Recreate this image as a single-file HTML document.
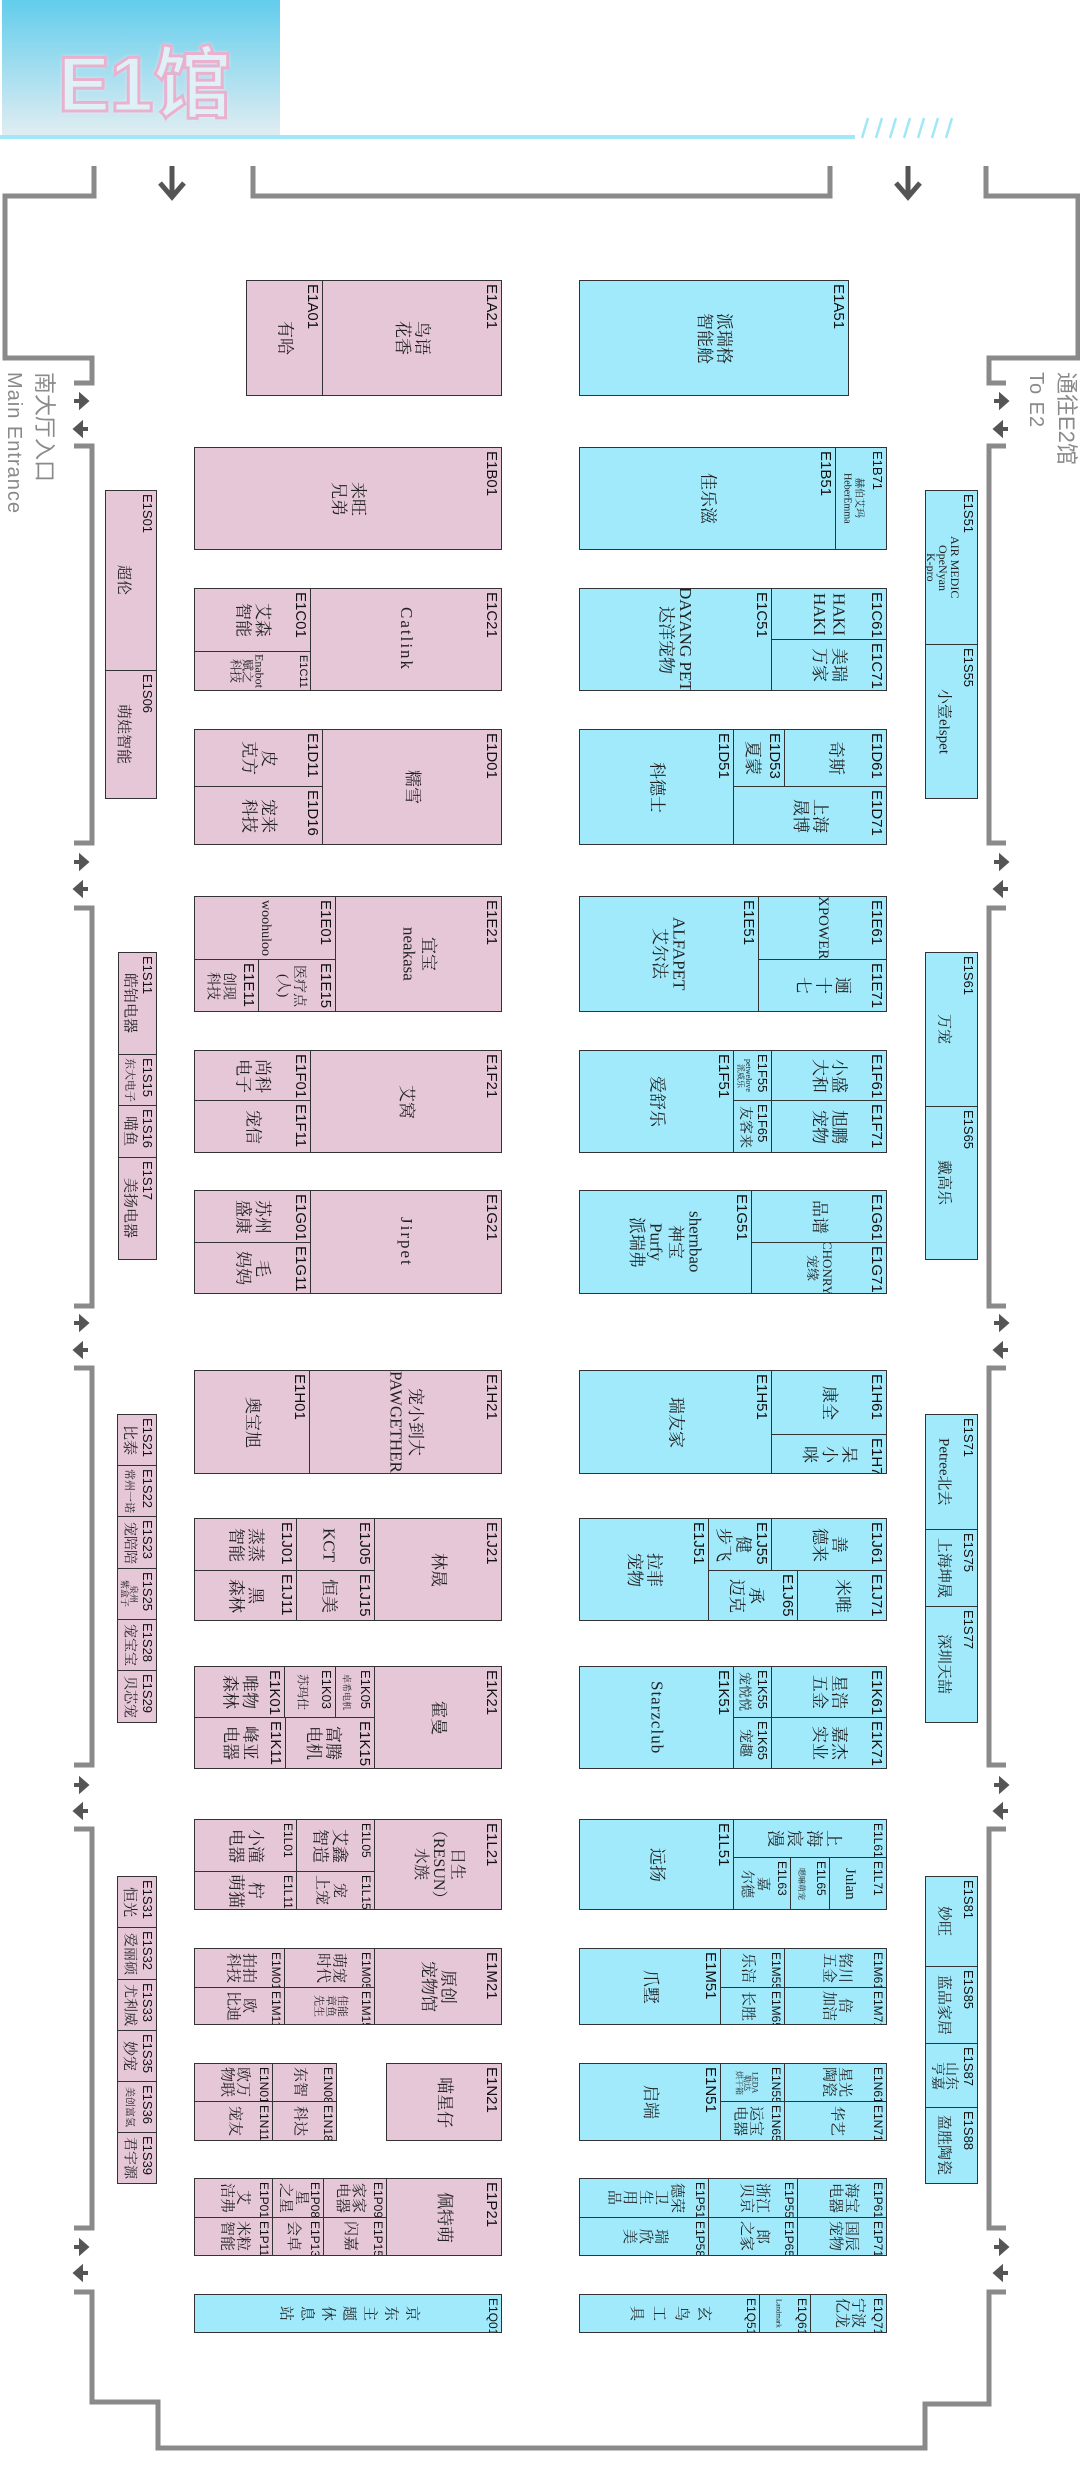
<!DOCTYPE html>
<html><head><meta charset="utf-8"><style>
*{margin:0;padding:0}
body{width:1080px;height:2480px;position:relative;background:#fff;overflow:hidden}
.b{position:absolute;border:1.5px solid #333;box-sizing:border-box;overflow:hidden}
.p{background:#e5c7d8}.c{background:#a0eafc}
.b i{position:absolute;top:3px;right:1px;writing-mode:vertical-rl;text-orientation:sideways;font:15px "Liberation Sans",sans-serif;font-style:normal;color:#111;white-space:nowrap}
.b span{position:absolute;left:0;top:0;right:0;bottom:0;display:flex;align-items:center;justify-content:center;writing-mode:vertical-rl;text-orientation:sideways;font:17px/1.15 "Liberation Serif","Noto Serif CJK SC",serif;color:#222;text-align:center;white-space:nowrap}
.s span{padding-right:17px;font-size:15px}
.s i{font-size:13px}
.t span{font-size:15px;line-height:1.05}
.x span{font-size:9px}
.lab{position:absolute;writing-mode:vertical-rl;text-orientation:sideways;color:#8a8a8a;font-family:"Liberation Sans","Noto Sans CJK SC",sans-serif;white-space:nowrap}
</style></head><body>
<div style="position:absolute;left:2px;top:0;width:278px;height:135px;background:linear-gradient(#62cdec,#e0edf2)"></div>
<div style="position:absolute;left:58px;top:22px;font:bold 78px 'Liberation Sans','Noto Sans CJK SC',sans-serif;color:#dff0f6;-webkit-text-stroke:3px #e8b2cf;text-shadow:0 0 4px #fff">E1馆</div>
<div style="position:absolute;left:0;top:135px;width:855px;height:4px;background:#a0e8f8"></div>
<svg style="position:absolute;left:0;top:0" width="1080" height="2480">
<g stroke="#a0e8f8" stroke-width="2.5"><line x1="862" y1="138" x2="868" y2="118"/><line x1="876" y1="138" x2="882" y2="118"/><line x1="890" y1="138" x2="896" y2="118"/><line x1="904" y1="138" x2="910" y2="118"/><line x1="918" y1="138" x2="924" y2="118"/><line x1="932" y1="138" x2="938" y2="118"/><line x1="946" y1="138" x2="952" y2="118"/></g>
<g fill="none" stroke="#8a8a8a" stroke-width="5">
<path d="M94,166V196H5V358H92V383H74"/>
<path d="M74,446H92V843H74"/><path d="M74,908H92V1306H74"/><path d="M74,1368H92V1765H74"/><path d="M74,1829H92V2228H74"/>
<path d="M74,2292H92V2402H158V2448H925V2404H989V2292H1006"/>
<path d="M1006,2228H989V1829H1006"/><path d="M1006,1765H989V1368H1006"/><path d="M1006,1306H989V908H1006"/><path d="M1006,843H989V446H1006"/>
<path d="M1006,383H989V358H1078V196H986V166"/>
<path d="M253,166V196H830V166"/>
</g>
<g stroke="#555" stroke-width="5" fill="none"><path d="M172,166V196M160,183L172,197L184,183"/><path d="M908,166V196M896,183L908,197L920,183"/></g>
<defs>
<g id="ar"><path d="M0,0H10" stroke="#555" stroke-width="4"/><path d="M6,-7L14,0L6,7Z" fill="#555" stroke="#555" stroke-width="2"/></g>
<g id="al"><path d="M4,0H14" stroke="#555" stroke-width="4"/><path d="M8,-7L0,0L8,7Z" fill="#555" stroke="#555" stroke-width="2"/></g>
</defs>
<g>
<use href="#ar" x="74" y="401"/><use href="#al" x="74" y="429"/>
<use href="#ar" x="74" y="862"/><use href="#al" x="74" y="889"/>
<use href="#ar" x="74" y="1323"/><use href="#al" x="74" y="1350"/>
<use href="#ar" x="74" y="1785"/><use href="#al" x="74" y="1811"/>
<use href="#ar" x="74" y="2247"/><use href="#al" x="74" y="2273"/>
<use href="#ar" x="994" y="401"/><use href="#al" x="994" y="429"/>
<use href="#ar" x="994" y="862"/><use href="#al" x="994" y="889"/>
<use href="#ar" x="994" y="1323"/><use href="#al" x="994" y="1350"/>
<use href="#ar" x="994" y="1785"/><use href="#al" x="994" y="1811"/>
<use href="#ar" x="994" y="2247"/><use href="#al" x="994" y="2273"/>
</g>
</svg>
<div class="lab" style="left:30px;top:372px;font-size:22px">南大厅入口</div>
<div class="lab" style="left:2px;top:372px;font-size:20px;letter-spacing:1px">Main Entrance</div>
<div class="lab" style="left:1052px;top:372px;font-size:22px">通往E2馆</div>
<div class="lab" style="left:1024px;top:372px;font-size:20px;letter-spacing:1px">To E2</div>

<div class="b p" style="left:246px;top:280px;width:77px;height:116px"><i>E1A01</i><span>有哈</span></div>
<div class="b p" style="left:322px;top:280px;width:180px;height:116px"><i>E1A21</i><span>鸟语<br>花香</span></div>
<div class="b c" style="left:579px;top:280px;width:270px;height:116px"><i>E1A51</i><span>派瑞格<br>智能舱</span></div>

<div class="b p" style="left:194px;top:447px;width:308px;height:103px"><i>E1B01</i><span>来旺<br>兄弟</span></div>
<div class="b c" style="left:579px;top:447px;width:257px;height:103px"><i>E1B51</i><span>佳乐滋</span></div>
<div class="b c s" style="left:835px;top:447px;width:52px;height:103px"><i>E1B71</i><span style="font-size:10px">赫伯艾玛<br>HeberEmma</span></div>
<div class="b p s" style="left:105px;top:490px;width:52px;height:181px"><i>E1S01</i><span>超伦</span></div>
<div class="b p s" style="left:105px;top:670px;width:52px;height:129px"><i>E1S06</i><span>萌娃智能</span></div>
<div class="b c s" style="left:925px;top:490px;width:53px;height:155px"><i>E1S51</i><span style="font-size:12px;line-height:1">AIR MEDIC<br>OpeNyan<br>K-pro</span></div>
<div class="b c s" style="left:925px;top:644px;width:53px;height:155px"><i>E1S55</i><span>小壹elspet</span></div>

<div class="b p" style="left:194px;top:588px;width:117px;height:64px"><i>E1C01</i><span>艾森<br>智能</span></div>
<div class="b p" style="left:194px;top:651px;width:117px;height:40px"><i style="font-size:11px">E1C11</i><span style="font-size:12px;line-height:1;padding-right:10px">Enabot<br>赋之<br>科技</span></div>
<div class="b p" style="left:310px;top:588px;width:192px;height:103px"><i>E1C21</i><span style="letter-spacing:2px">Catlink</span></div>
<div class="b c" style="left:579px;top:588px;width:193px;height:103px"><i>E1C51</i><span>DAYANG PET<br>达洋宠物</span></div>
<div class="b c" style="left:771px;top:588px;width:116px;height:52px"><i>E1C61</i><span>HAKI<br>HAKI</span></div>
<div class="b c" style="left:771px;top:639px;width:116px;height:52px"><i>E1C71</i><span>美瑞<br>万家</span></div>

<div class="b p" style="left:194px;top:729px;width:129px;height:58px"><i>E1D11</i><span>皮<br>克方</span></div>
<div class="b p" style="left:194px;top:786px;width:129px;height:59px"><i>E1D16</i><span>宠来<br>科技</span></div>
<div class="b p" style="left:322px;top:729px;width:180px;height:116px"><i>E1D01</i><span>糯雪</span></div>
<div class="b c" style="left:579px;top:729px;width:155px;height:116px"><i>E1D51</i><span>科德士</span></div>
<div class="b c" style="left:733px;top:729px;width:52px;height:58px"><i>E1D53</i><span style="padding-right:14px">夏蒙</span></div>
<div class="b c" style="left:784px;top:729px;width:103px;height:58px"><i>E1D61</i><span>奇斯</span></div>
<div class="b c" style="left:733px;top:786px;width:154px;height:59px"><i>E1D71</i><span>上海<br>晟博</span></div>

<div class="b p" style="left:194px;top:896px;width:142px;height:64px"><i>E1E01</i><span style="font-size:14px">woohuloo</span></div>
<div class="b p" style="left:194px;top:959px;width:65px;height:53px"><i>E1E11</i><span style="font-size:14px;padding-right:14px">创现<br>科技</span></div>
<div class="b p" style="left:258px;top:959px;width:78px;height:53px"><i>E1E15</i><span style="font-size:14px;padding-right:14px">医疗点<br>(人)</span></div>
<div class="b p" style="left:335px;top:896px;width:167px;height:116px"><i>E1E21</i><span>宜宝<br>neakasa</span></div>
<div class="b c" style="left:579px;top:896px;width:180px;height:116px"><i>E1E51</i><span>ALFAPET<br>艾尔法</span></div>
<div class="b c" style="left:758px;top:896px;width:129px;height:64px"><i>E1E61</i><span style="font-size:15px">XPOWER</span></div>
<div class="b c" style="left:758px;top:959px;width:129px;height:53px"><i>E1E71</i><span>逦<br>十<br>七</span></div>
<div class="b p s" style="left:118px;top:952px;width:39px;height:103px"><i>E1S11</i><span>皓铂电器</span></div>
<div class="b p s" style="left:118px;top:1054px;width:39px;height:52px"><i>E1S15</i><span style="font-size:11px">东大电子</span></div>
<div class="b p s" style="left:118px;top:1105px;width:39px;height:53px"><i>E1S16</i><span>喵鱼</span></div>
<div class="b p s" style="left:118px;top:1157px;width:39px;height:103px"><i>E1S17</i><span>美扬电器</span></div>
<div class="b c s" style="left:925px;top:952px;width:53px;height:155px"><i>E1S61</i><span>万宠</span></div>
<div class="b c s" style="left:925px;top:1106px;width:53px;height:154px"><i>E1S65</i><span>戴高乐</span></div>

<div class="b p" style="left:194px;top:1050px;width:117px;height:51px"><i>E1F01</i><span>尚科<br>电子</span></div>
<div class="b p" style="left:194px;top:1100px;width:117px;height:53px"><i>E1F11</i><span>宠信</span></div>
<div class="b p" style="left:310px;top:1050px;width:192px;height:103px"><i>E1F21</i><span>艾窝</span></div>
<div class="b c" style="left:579px;top:1050px;width:155px;height:103px"><i>E1F51</i><span>爱舒乐</span></div>
<div class="b c s" style="left:733px;top:1050px;width:39px;height:51px"><i>E1F55</i><span style="font-size:8px;line-height:1">petwelove<br>派威乐</span></div>
<div class="b c s" style="left:733px;top:1100px;width:39px;height:53px"><i>E1F65</i><span style="font-size:14px">友客来</span></div>
<div class="b c" style="left:771px;top:1050px;width:116px;height:51px"><i>E1F61</i><span>小盛<br>大和</span></div>
<div class="b c" style="left:771px;top:1100px;width:116px;height:53px"><i>E1F71</i><span>旭鹏<br>宠物</span></div>

<div class="b p" style="left:194px;top:1190px;width:117px;height:53px"><i>E1G01</i><span>苏州<br>盛康</span></div>
<div class="b p" style="left:194px;top:1242px;width:117px;height:52px"><i>E1G11</i><span>毛<br>妈妈</span></div>
<div class="b p" style="left:310px;top:1190px;width:192px;height:104px"><i>E1G21</i><span style="letter-spacing:2px">Jirpet</span></div>
<div class="b c" style="left:579px;top:1190px;width:173px;height:104px"><i>E1G51</i><span>shernbao<br>神宝<br>Purfy<br>派瑞弗</span></div>
<div class="b c" style="left:751px;top:1190px;width:136px;height:53px"><i>E1G61</i><span>品谱</span></div>
<div class="b c" style="left:751px;top:1242px;width:136px;height:52px"><i>E1G71</i><span style="font-size:13px">CHONRY<br>宠缘</span></div>

<div class="b p" style="left:194px;top:1370px;width:116px;height:104px"><i>E1H01</i><span>奥宝旭</span></div>
<div class="b p" style="left:309px;top:1370px;width:193px;height:104px"><i>E1H21</i><span>宠小到大<br>PAWGETHER</span></div>
<div class="b c" style="left:579px;top:1370px;width:193px;height:104px"><i>E1H51</i><span>瑞友家</span></div>
<div class="b c" style="left:771px;top:1370px;width:116px;height:65px"><i>E1H61</i><span>康全</span></div>
<div class="b c" style="left:771px;top:1434px;width:116px;height:40px"><i>E1H71</i><span>呆<br>小<br>咪</span></div>

<div class="b p" style="left:194px;top:1518px;width:103px;height:53px"><i>E1J01</i><span>蒸蒸<br>智能</span></div>
<div class="b p" style="left:194px;top:1570px;width:103px;height:51px"><i>E1J11</i><span>黑<br>森林</span></div>
<div class="b p" style="left:296px;top:1518px;width:79px;height:53px"><i>E1J05</i><span style="padding-right:14px">KCT</span></div>
<div class="b p" style="left:296px;top:1570px;width:79px;height:51px"><i>E1J15</i><span style="padding-right:14px">恒美</span></div>
<div class="b p" style="left:374px;top:1518px;width:128px;height:103px"><i>E1J21</i><span>林晟</span></div>
<div class="b c" style="left:579px;top:1518px;width:130px;height:103px"><i>E1J51</i><span>拉菲<br>宠物</span></div>
<div class="b c" style="left:708px;top:1518px;width:64px;height:53px"><i>E1J55</i><span style="padding-right:14px">健<br>步飞</span></div>
<div class="b c" style="left:771px;top:1518px;width:116px;height:53px"><i>E1J61</i><span>善<br>德来</span></div>
<div class="b c" style="left:708px;top:1570px;width:90px;height:51px"><i>E1J65</i><span style="padding-right:14px">承<br>迈克</span></div>
<div class="b c" style="left:797px;top:1570px;width:90px;height:51px"><i>E1J71</i><span>米唯</span></div>
<div class="b p s" style="left:117px;top:1414px;width:40px;height:52px"><i>E1S21</i><span>比泰</span></div>
<div class="b p s" style="left:117px;top:1465px;width:40px;height:52px"><i>E1S22</i><span style="font-size:11px">常州一诺</span></div>
<div class="b p s" style="left:117px;top:1516px;width:40px;height:53px"><i>E1S23</i><span style="font-size:14px">宠陪陪</span></div>
<div class="b p s" style="left:117px;top:1568px;width:40px;height:52px"><i>E1S25</i><span style="font-size:9px;line-height:1">泉州<br>紫盒子</span></div>
<div class="b p s" style="left:117px;top:1619px;width:40px;height:52px"><i>E1S28</i><span style="font-size:14px">宠宝宝</span></div>
<div class="b p s" style="left:117px;top:1670px;width:40px;height:53px"><i>E1S29</i><span style="font-size:14px">贝芯宠</span></div>
<div class="b c s" style="left:925px;top:1414px;width:53px;height:116px"><i>E1S71</i><span>Petree北去</span></div>
<div class="b c s" style="left:925px;top:1529px;width:53px;height:78px"><i>E1S75</i><span>上海坤晟</span></div>
<div class="b c s" style="left:925px;top:1606px;width:53px;height:117px"><i>E1S77</i><span>深圳天喆</span></div>

<div class="b p" style="left:194px;top:1666px;width:91px;height:52px"><i>E1K01</i><span>唯物<br>森林</span></div>
<div class="b p s" style="left:284px;top:1666px;width:52px;height:52px"><i>E1K03</i><span style="font-size:12px">苏玛仕</span></div>
<div class="b p s" style="left:335px;top:1666px;width:40px;height:52px"><i>E1K05</i><span style="font-size:9px">卓希电机</span></div>
<div class="b p" style="left:194px;top:1717px;width:92px;height:52px"><i>E1K11</i><span>峰亚<br>电器</span></div>
<div class="b p" style="left:285px;top:1717px;width:90px;height:52px"><i>E1K15</i><span style="padding-right:14px">富腾<br>电机</span></div>
<div class="b p" style="left:374px;top:1666px;width:128px;height:103px"><i>E1K21</i><span>霍曼</span></div>
<div class="b c" style="left:579px;top:1666px;width:155px;height:103px"><i>E1K51</i><span style="letter-spacing:1px">Starzclub</span></div>
<div class="b c s" style="left:733px;top:1666px;width:39px;height:52px"><i>E1K55</i><span style="font-size:13px">宠悦悦</span></div>
<div class="b c s" style="left:733px;top:1717px;width:39px;height:52px"><i>E1K65</i><span style="font-size:14px">宠趣</span></div>
<div class="b c" style="left:771px;top:1666px;width:116px;height:52px"><i>E1K61</i><span>星浩<br>五金</span></div>
<div class="b c" style="left:771px;top:1717px;width:116px;height:52px"><i>E1K71</i><span>嘉杰<br>实业</span></div>

<div class="b p" style="left:194px;top:1819px;width:103px;height:53px"><i style="font-size:12px">E1L01</i><span>小潼<br>电器</span></div>
<div class="b p" style="left:194px;top:1871px;width:103px;height:39px"><i style="font-size:12px">E1L11</i><span>柠<br>萌猫</span></div>
<div class="b p" style="left:296px;top:1819px;width:79px;height:53px"><i style="font-size:12px">E1L05</i><span style="padding-right:12px">艾鑫<br>智造</span></div>
<div class="b p" style="left:296px;top:1871px;width:79px;height:39px"><i style="font-size:12px">E1L15</i><span style="padding-right:12px;font-size:15px">宠<br>上宠</span></div>
<div class="b p" style="left:374px;top:1819px;width:128px;height:91px"><i>E1L21</i><span style="font-size:16px">日生<br>（RESUN）<br>水族</span></div>
<div class="b c" style="left:579px;top:1819px;width:155px;height:91px"><i>E1L51</i><span>远扬</span></div>
<div class="b c" style="left:733px;top:1819px;width:154px;height:39px"><i style="font-size:12px">E1L61</i><span style="padding-right:12px">上<br>海<br>宸<br>漫</span></div>
<div class="b c s" style="left:733px;top:1857px;width:58px;height:53px"><i style="font-size:12px">E1L63</i><span style="font-size:14px">嘉<br>尔德</span></div>
<div class="b c s" style="left:790px;top:1857px;width:40px;height:53px"><i style="font-size:12px">E1L65</i><span style="font-size:8px">嗯嘛萌宠</span></div>
<div class="b c s" style="left:829px;top:1857px;width:58px;height:53px"><i style="font-size:12px">E1L71</i><span>Julan</span></div>

<div class="b p t" style="left:194px;top:1948px;width:91px;height:40px"><i style="font-size:12px">E1M01</i><span>拍拍<br>科技</span></div>
<div class="b p t" style="left:194px;top:1987px;width:91px;height:38px"><i style="font-size:12px">E1M11</i><span>欧<br>比迪</span></div>
<div class="b p t" style="left:284px;top:1948px;width:91px;height:40px"><i style="font-size:12px">E1M05</i><span>萌宠<br>时代</span></div>
<div class="b p t" style="left:284px;top:1987px;width:91px;height:38px"><i style="font-size:12px">E1M15</i><span style="font-size:11px">佳能<br>章鱼<br>先生</span></div>
<div class="b p" style="left:374px;top:1948px;width:128px;height:77px"><i>E1M21</i><span>原创<br>宠物馆</span></div>
<div class="b c" style="left:579px;top:1948px;width:142px;height:77px"><i>E1M51</i><span>爪墅</span></div>
<div class="b c t" style="left:720px;top:1948px;width:65px;height:40px"><i style="font-size:12px">E1M55</i><span style="padding-right:12px">乐洁</span></div>
<div class="b c t" style="left:720px;top:1987px;width:65px;height:38px"><i style="font-size:12px">E1M65</i><span style="padding-right:12px">长胜</span></div>
<div class="b c t" style="left:784px;top:1948px;width:103px;height:40px"><i style="font-size:12px">E1M61</i><span>铭川<br>五金</span></div>
<div class="b c t" style="left:784px;top:1987px;width:103px;height:38px"><i style="font-size:12px">E1M71</i><span>倍<br>加洁</span></div>

<div class="b p t" style="left:194px;top:2063px;width:79px;height:39px"><i style="font-size:12px">E1N01</i><span>欧万<br>物联</span></div>
<div class="b p t" style="left:194px;top:2101px;width:79px;height:40px"><i style="font-size:12px">E1N11</i><span>宠友</span></div>
<div class="b p t" style="left:272px;top:2063px;width:65px;height:39px"><i style="font-size:12px">E1N08</i><span style="padding-right:12px">东智</span></div>
<div class="b p t" style="left:272px;top:2101px;width:65px;height:40px"><i style="font-size:12px">E1N18</i><span style="padding-right:12px">科达</span></div>
<div class="b p" style="left:386px;top:2063px;width:116px;height:78px"><i>E1N21</i><span>喵星仔</span></div>
<div class="b c" style="left:579px;top:2063px;width:142px;height:78px"><i>E1N51</i><span>启端</span></div>
<div class="b c t" style="left:720px;top:2063px;width:65px;height:39px"><i style="font-size:12px">E1N55</i><span style="font-size:8px;padding-right:12px;line-height:1">LEDA<br>勒达<br>烘干箱</span></div>
<div class="b c t" style="left:720px;top:2101px;width:65px;height:40px"><i style="font-size:12px">E1N65</i><span style="padding-right:12px">运宝<br>电器</span></div>
<div class="b c t" style="left:784px;top:2063px;width:103px;height:39px"><i style="font-size:12px">E1N61</i><span>星光<br>陶瓷</span></div>
<div class="b c t" style="left:784px;top:2101px;width:103px;height:40px"><i style="font-size:12px">E1N71</i><span>华艺</span></div>

<div class="b p t" style="left:194px;top:2178px;width:79px;height:40px"><i style="font-size:12px">E1P01</i><span>艾<br>洁弗</span></div>
<div class="b p t" style="left:194px;top:2217px;width:79px;height:39px"><i style="font-size:12px">E1P11</i><span>米粒<br>智能</span></div>
<div class="b p t" style="left:272px;top:2178px;width:52px;height:40px"><i style="font-size:12px">E1P08</i><span style="padding-right:12px">星<br>之星</span></div>
<div class="b p t" style="left:272px;top:2217px;width:52px;height:39px"><i style="font-size:12px">E1P13</i><span style="padding-right:12px">会卓</span></div>
<div class="b p t" style="left:323px;top:2178px;width:64px;height:40px"><i style="font-size:12px">E1P09</i><span style="padding-right:12px">家家<br>电器</span></div>
<div class="b p t" style="left:323px;top:2217px;width:64px;height:39px"><i style="font-size:12px">E1P15</i><span style="padding-right:12px">闪嘉</span></div>
<div class="b p" style="left:386px;top:2178px;width:116px;height:78px"><i>E1P21</i><span>佩特萌</span></div>
<div class="b c t" style="left:579px;top:2178px;width:130px;height:40px"><i style="font-size:12px">E1P51</i><span>德荣<br>卫<br>生<br>用<br>品</span></div>
<div class="b c t" style="left:579px;top:2217px;width:130px;height:39px"><i style="font-size:12px">E1P58</i><span>瑞<br>欣<br>美</span></div>
<div class="b c t" style="left:708px;top:2178px;width:90px;height:40px"><i style="font-size:12px">E1P55</i><span>浙江<br>贝京</span></div>
<div class="b c t" style="left:708px;top:2217px;width:90px;height:39px"><i style="font-size:12px">E1P65</i><span>郎<br>之家</span></div>
<div class="b c t" style="left:797px;top:2178px;width:90px;height:40px"><i style="font-size:12px">E1P61</i><span>海宝<br>电器</span></div>
<div class="b c t" style="left:797px;top:2217px;width:90px;height:39px"><i style="font-size:12px">E1P71</i><span>国辰<br>宠物</span></div>

<div class="b c t" style="left:194px;top:2294px;width:308px;height:39px"><i style="font-size:12px">E1Q01</i><span style="line-height:1.4">京<br>东<br>主<br>题<br>休<br>息<br>站</span></div>
<div class="b c t" style="left:579px;top:2294px;width:181px;height:39px"><i style="font-size:12px">E1Q51</i><span style="line-height:1.5">玄<br>鸟<br>工<br>具</span></div>
<div class="b c t" style="left:759px;top:2294px;width:52px;height:39px"><i style="font-size:12px">E1Q61</i><span style="font-size:7px;padding-right:14px">Landmark</span></div>
<div class="b c t" style="left:810px;top:2294px;width:77px;height:39px"><i style="font-size:12px">E1Q71</i><span>宁波<br>亿龙</span></div>

<div class="b p s" style="left:117px;top:1876px;width:40px;height:52px"><i>E1S31</i><span>恒光</span></div>
<div class="b p s" style="left:117px;top:1927px;width:40px;height:53px"><i>E1S32</i><span style="font-size:14px">爱丽硕</span></div>
<div class="b p s" style="left:117px;top:1979px;width:40px;height:52px"><i>E1S33</i><span style="font-size:14px">尤利威</span></div>
<div class="b p s" style="left:117px;top:2030px;width:40px;height:52px"><i>E1S35</i><span>妙宠</span></div>
<div class="b p s" style="left:117px;top:2081px;width:40px;height:52px"><i>E1S36</i><span style="font-size:10px">美创富氢</span></div>
<div class="b p s" style="left:117px;top:2132px;width:40px;height:52px"><i>E1S39</i><span style="font-size:14px">君宇源</span></div>
<div class="b c s" style="left:925px;top:1876px;width:53px;height:91px"><i>E1S81</i><span>妙旺</span></div>
<div class="b c s" style="left:925px;top:1966px;width:53px;height:78px"><i>E1S85</i><span>蓝品家居</span></div>
<div class="b c s" style="left:925px;top:2043px;width:53px;height:65px"><i>E1S87</i><span style="font-size:14px;line-height:1">山东<br>亨嘉</span></div>
<div class="b c s" style="left:925px;top:2107px;width:53px;height:77px"><i>E1S88</i><span>盈胜陶瓷</span></div>
</body></html>
